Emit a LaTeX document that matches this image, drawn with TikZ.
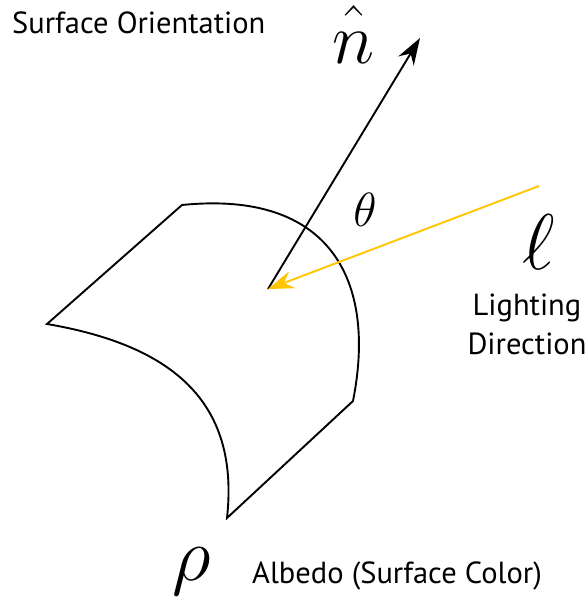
\RequirePackage{fix-cm}
\documentclass[tikz,border=0pt]{standalone}
\usepackage[no-math]{fontspec}
\newfontfamily\labfont{PT Sans}
\usetikzlibrary{arrows.meta}
\definecolor{lightgold}{RGB}{255,198,0}
\begin{document}
\begin{tikzpicture}[x=1pt,y=-1pt,
  surf/.style={line width=1.9pt,line join=miter},
  normalarrow/.style={line width=1.9pt,-{Stealth[length=27pt,width=18pt,inset=9pt]}},
  lightarrow/.style={line width=1.9pt,lightgold,-{Stealth[length=26pt,width=18pt,inset=9pt]}},
  lab/.style={inner sep=0pt,font=\labfont\fontsize{30.5}{34}\selectfont},
  sym/.style={inner sep=0pt,anchor=base}]
\useasboundingbox (0,0) rectangle (586,598);
% surface patch
\coordinate (A) at (182,205);
\coordinate (B) at (47,324);
\coordinate (C) at (227,518);
\coordinate (D) at (353,401);
\draw[surf] (A) -- (B) .. controls (170,345) and (240,400) .. (C) -- (D)
  .. controls (377,280) and (330,190) .. cycle;
% vectors
\coordinate (p0) at (268,289);
\coordinate (ntip) at (420,38);
\coordinate (lsrc) at (539,186);
\draw[normalarrow] (p0) -- (ntip);
\draw[lightarrow] (lsrc) -- (p0);
% symbols
\node[sym] (nhat) at (354,63) {\fontsize{72}{72}\selectfont$\hat{\rule{0pt}{38pt}n}$};
\node[sym] (theta) at (365,226) {\fontsize{48}{48}\selectfont$\theta$};
\node[sym] (ell) at (539,269) {\fontsize{79}{79}\selectfont$\ell$};
\node[sym] (rho) at (192,580) {\fontsize{76}{76}\selectfont$\rho$};
% labels
\node[lab,anchor=base west] (orient) at (12,33) {Surface Orientation};
\node[lab,anchor=base] (light1) at (527,315) {Lighting};
\node[lab,anchor=base] (light2) at (527,354) {Direction};
\node[lab,anchor=base west] (albedo) at (252,583) {Albedo (Surface Color)};
\end{tikzpicture}
\end{document}
